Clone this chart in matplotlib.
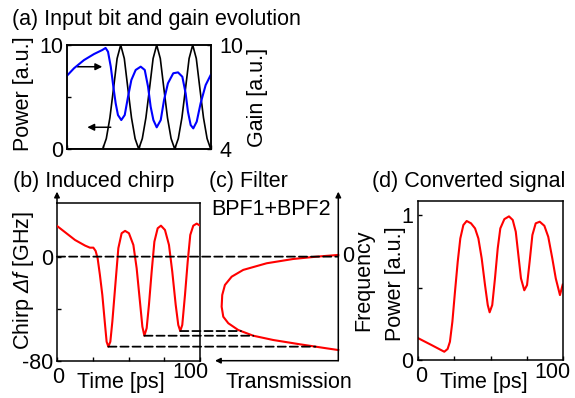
import numpy as np
import matplotlib
matplotlib.use('Agg')
import matplotlib.pyplot as plt
from matplotlib.patches import ConnectionPatch

plt.rcParams['font.family'] = ['Liberation Sans', 'DejaVu Sans']
plt.rcParams['mathtext.fontset'] = 'custom'
plt.rcParams['mathtext.rm'] = 'Liberation Sans:italic'
plt.rcParams['mathtext.it'] = 'Liberation Sans:italic'
FS = 15.5

# ---------------- data ----------------
# (a) input bits (left axis, a.u.) and gain (right axis, a.u.)
power_t = [0, 25, 27.5, 30, 32.5, 35, 37.5, 40, 42.5, 45, 47.5,
           50, 52.5, 55, 57.5, 60, 62.5, 65, 67.5, 70, 72.5,
           75, 77.5, 80, 82.5, 85, 87.5, 90, 92.5, 95, 97.5, 100]
power = [0, 0, 1.0, 3.0, 5.8, 8.7, 10, 8.7, 5.8, 3.0, 1.0,
         0, 1.0, 3.0, 5.8, 8.7, 10, 8.7, 5.8, 3.0, 1.0,
         0, 1.0, 3.0, 5.8, 8.7, 10, 8.7, 5.8, 3.0, 1.0, 0]
gain_t = [0, 5.1, 12, 19, 24.7, 27, 28.7, 30.6, 32.4, 34, 35.6, 37.9, 40.3,
          42.6, 44.9, 47.9, 51.4, 54.2, 56.5, 58.3, 60.2, 62.5, 65.3, 67.6,
          70.3, 74, 77.3, 80.3, 82.6, 84.2, 86.1, 87.9, 90.3, 93, 96.5, 100]
gain = [8.21, 8.66, 9.13, 9.48, 9.71, 9.83, 9.61, 8.75, 7.59, 6.64, 5.96, 5.67,
        5.96, 7.02, 7.98, 8.56, 8.75, 8.56, 7.59, 6.44, 5.67, 5.25, 5.67, 6.83,
        7.79, 8.37, 8.42, 8.17, 7.21, 6.15, 5.38, 5.19, 5.58, 6.64, 7.69, 8.27]

# (b) induced chirp [GHz]
chirp_t = [0, 5.6, 12.6, 19.6, 23, 25.4, 27, 28.4, 30, 31.7, 33.6, 34.7, 35.9,
           37.3, 38.7, 40.6, 42.9, 45.2, 47.6, 50.3, 53.4, 55.7, 58, 59.7, 61.1,
           62.7, 64.3, 66.2, 68.1, 70.4, 72.7, 75.5, 78.3, 80.6, 83, 84.8, 86.2,
           87.6, 89.5, 91.4, 93.2, 95.3, 97.7, 100]
chirp_f = [23.6, 18.8, 12.8, 8.5, 6.9, 6.9, 4.4, -1.2, -14, -29.5, -52.5, -65.4,
           -69.2, -65.4, -50, -24.3, 6.5, 18, 19.8, 18, 9, -8.9, -34.6, -53.8,
           -60.8, -55, -37, -11.5, 11.5, 21.8, 23.8, 20.5, 9, -11.5, -37, -52.5,
           -57.2, -52.5, -29.5, -3.8, 16.7, 23.8, 25.4, 23.8]

# (c) filter BPF1+BPF2: transmission vs frequency
filter_freq = [1.3, 0, -1.8, -5.1, -10.2, -15.4, -21.8, -29.5, -38.5, -46.2,
               -51.2, -56.4, -60.8, -64.1, -67.4, -70.5, -71.8]
filter_trans = [0, 0.185, 0.386, 0.614, 0.815, 0.914, 0.972, 0.995, 1.0, 0.986,
                0.943, 0.858, 0.729, 0.557, 0.328, 0.099, 0]

# (d) converted signal
out_t = [0, 9.2, 18, 20.3, 21.9, 23.6, 25.4, 27.3, 29.1, 31.2, 33.5, 36.5, 39.3,
         41.6, 43.9, 46.2, 48.1, 49.4, 51.2, 53.1, 55, 56.8, 59.6, 62.8, 65.4,
         67.5, 69.3, 71.1, 73.4, 75.3, 77.1, 79, 81.3, 84.1, 87.3, 90, 92.8,
         95.2, 98.1, 100]
out_p = [0.150, 0.103, 0.057, 0.076, 0.126, 0.264, 0.471, 0.678, 0.839, 0.931,
         0.959, 0.943, 0.908, 0.839, 0.701, 0.517, 0.379, 0.329, 0.379, 0.563,
         0.770, 0.908, 0.972, 0.991, 0.966, 0.885, 0.724, 0.563, 0.481, 0.517,
         0.678, 0.862, 0.943, 0.954, 0.926, 0.850, 0.701, 0.563, 0.448, 0.52]

time_ticks = [0, 25, 50, 75, 100]

# ---------------- figure ----------------
W, H = 575, 398
fig = plt.figure(figsize=(W / 100, H / 100), dpi=100)


def rect(l, t, r, b):
    return [l / W, 1 - b / H, (r - l) / W, (b - t) / H]


def ftext(x, y, s, **kw):
    kw.setdefault('fontsize', FS)
    return fig.text(x / W, 1 - y / H, s, **kw)


def style(ax, pad=3):
    for sp in ax.spines.values():
        sp.set_linewidth(1.1)
    ax.tick_params(direction='in', length=3, width=1, labelsize=FS, pad=pad)


RED = '#ff0000'
BLUE = '#0000ff'
ARW = dict(arrowstyle='-|>', color='k', lw=1.1, shrinkA=0, shrinkB=0,
           mutation_scale=10)

# (a)
ax_a = fig.add_axes(rect(66.7, 45, 210.7, 149))
style(ax_a, pad=2.7)
ax_a.plot(power_t, power, color='k', lw=1.2)
ax_a.set_xlim(0, 100)
ax_a.set_ylim(0, 10)
ax_a.set_xticks(time_ticks)
ax_a.set_xticklabels([])
ax_a.set_yticks([0, 5, 10])
ax_a.set_yticklabels(['0', '', '10'])
ax_g = ax_a.twinx()
style(ax_g, pad=6.5)
ax_g.plot(gain_t, gain, color=BLUE, lw=1.5)
ax_g.set_ylim(4, 10)
ax_g.set_yticks([4, 10])
ax_g.set_yticklabels(['4', '10'])
ax_a.annotate('', xy=(0.247, 0.791), xytext=(0.074, 0.791),
              xycoords='axes fraction', arrowprops=ARW)
ax_a.annotate('', xy=(0.143, 0.209), xytext=(0.306, 0.209),
              xycoords='axes fraction', arrowprops=ARW)

# (b)
ax_b = fig.add_axes(rect(57, 203.3, 200, 360.7))
style(ax_b, pad=2.9)
ax_b.plot(chirp_t, chirp_f, color=RED, lw=1.5, zorder=3)
ax_b.set_xlim(0, 100)
ax_b.set_ylim(-80, 41)
ax_b.set_xticks(time_ticks)
ax_b.set_xticklabels([])
ax_b.set_yticks([-80, -40, 0])
ax_b.set_yticklabels(['-80', '', '0'])
ax_b.annotate('', xy=(0, 1.074), xytext=(0, 1.0), xycoords='axes fraction',
              arrowprops=dict(ARW, mutation_scale=8), annotation_clip=False)

# (c)
ax_c = fig.add_axes(rect(215, 203.3, 338.3, 360.7))
ax_c.plot(filter_trans, filter_freq, color=RED, lw=1.5, clip_on=False)
ax_c.set_xlim(1.057, 0)
ax_c.set_ylim(-80, 41)
ax_c.set_xticks([])
ax_c.set_yticks([])
for sp in ax_c.spines.values():
    sp.set_visible(False)
ax_c.patch.set_visible(False)
ax_c.annotate('', xy=(1, 1.074), xytext=(1, 0), xycoords='axes fraction',
              arrowprops=dict(ARW, mutation_scale=8), annotation_clip=False)
ax_c.annotate('', xy=(0, 0), xytext=(1, 0), xycoords='axes fraction',
              arrowprops=dict(ARW, mutation_scale=8), annotation_clip=False)
ax_c.annotate('0', xy=(1, 0), xycoords=('axes fraction', 'data'),
              xytext=(2.5, 0), textcoords='offset points', ha='left',
              va='center', fontsize=FS)

# dashed guide lines: zero frequency and chirp minima -> filter lower edge
DASH = dict(color='k', lw=1.3, linestyle=(0, (4.5, 2.2)), zorder=2)
fig.add_artist(ConnectionPatch(xyA=(0, 0), coordsA=ax_b.transData,
                               xyB=(0, 0), coordsB=ax_c.transData, **DASH))
cf = np.array(chirp_f)
ct = np.array(chirp_t)
imax = int(np.argmax(filter_trans))
low_f = np.array(filter_freq[imax:])[::-1]
low_T = np.array(filter_trans[imax:])[::-1]
for i in range(1, len(cf) - 1):
    if cf[i] < cf[i - 1] and cf[i] < cf[i + 1] and cf[i] < -40:
        T_end = np.interp(cf[i], low_f, low_T)
        fig.add_artist(ConnectionPatch(xyA=(ct[i], cf[i]), coordsA=ax_b.transData,
                                       xyB=(T_end, cf[i]), coordsB=ax_c.transData,
                                       **DASH))

# (d)
ax_d = fig.add_axes(rect(418.3, 201, 562.7, 360))
style(ax_d, pad=3.8)
ax_d.plot(out_t, out_p, color=RED, lw=1.5)
ax_d.set_xlim(0, 100)
ax_d.set_ylim(0, 1.097)
ax_d.set_xticks(time_ticks)
ax_d.set_xticklabels([])
ax_d.set_yticks([0, 0.5, 1])
ax_d.set_yticklabels(['0', '', '1'])

# ---------------- texts ----------------
ftext(12, 25.5, '(a) Input bit and gain evolution', va='baseline')
ftext(13.3, 187, '(b) Induced chirp', va='baseline')
ftext(209, 187, '(c) Filter', va='baseline')
ftext(371.7, 187, '(d) Converted signal', va='baseline')
ftext(211.7, 215, 'BPF1+BPF2', va='baseline')

ftext(24, 94, 'Power [a.u.]', rotation=90, ha='center', va='center')
ftext(257.5, 97, 'Gain [a.u.]', rotation=90, ha='center', va='center')
ftext(24, 280.5, r'Chirp $\Delta f$ [GHz]', rotation=90, ha='center', va='center')
ftext(363.5, 280, 'Frequency', rotation=90, ha='center', va='center')
ftext(395, 284, 'Power [a.u.]', rotation=90, ha='center', va='center')

ftext(121, 388, 'Time [ps]', ha='center', va='baseline')
ftext(483.5, 388, 'Time [ps]', ha='center', va='baseline')
ftext(289, 388, 'Transmission', ha='center', va='baseline')

ftext(58, 383, '0', ha='center', va='baseline')
ftext(190, 378, '100', ha='center', va='baseline')
ftext(421, 381.7, '0', ha='center', va='baseline')
ftext(552.5, 378.3, '100', ha='center', va='baseline')

fig.savefig('out.png', dpi=100)
